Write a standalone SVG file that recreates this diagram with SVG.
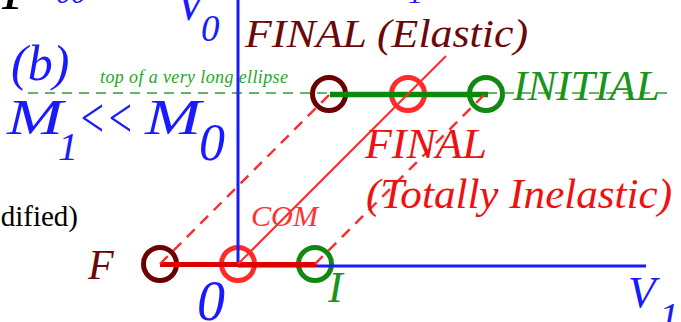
<svg xmlns="http://www.w3.org/2000/svg" width="681" height="322" viewBox="0 0 681 322">
<style>
text{font-family:"Liberation Serif","Times New Roman",serif;font-style:italic}
.blue{fill:#1a1aff}
.dred{fill:#6b0808}
.red{fill:#ee1111}
.grn{fill:#1a951a}
.ring{fill:none;stroke-width:5}
.axis{stroke:#1a1aff;stroke-width:3;fill:none}
.diag{stroke:#ff2a2a;stroke-width:2;fill:none}
.dash{stroke-dasharray:11,8;stroke-width:2.4}
</style>
<rect width="681" height="322" fill="#fff"/>
<!-- partially visible texts at top -->
<text x="2" y="9" font-size="58" fill="#000">P</text>
<text x="56" y="3" font-size="30" class="blue">00</text>
<text x="408" y="3" font-size="30" class="blue">1</text>
<text x="78" y="226" font-size="29" fill="#000" style="font-style:normal" text-anchor="end">(modified)</text>
<!-- left labels -->
<text x="11" y="80" font-size="50" class="blue">(b)</text>
<text x="7" y="134" font-size="50" class="blue" textLength="56" lengthAdjust="spacingAndGlyphs">M</text>
<text x="58" y="160" font-size="40" class="blue">1</text>
<text x="78" y="137" font-size="58" class="blue" textLength="56" lengthAdjust="spacingAndGlyphs">&lt;&lt;</text>
<text x="145" y="134" font-size="50" class="blue" textLength="56" lengthAdjust="spacingAndGlyphs">M</text>
<text x="199" y="160" font-size="52" class="blue">0</text>
<text x="176" y="20" font-size="46" class="blue">V</text>
<text x="201" y="41" font-size="37" class="blue">0</text>
<text x="100" y="83" font-size="18" fill="#2aa52a" textLength="188">top of a very long ellipse</text>
<!-- nodes -->
<g id="node-final-elastic"><circle class="ring" cx="329" cy="94" r="16.5" stroke="#6b0000"/></g>
<g id="node-com-top"><circle class="ring" cx="408" cy="94" r="16.5" stroke="#ff2a2a"/></g>
<g id="node-initial-top"><circle class="ring" cx="486" cy="94" r="16.5" stroke="#118811"/></g>
<g id="node-F"><circle class="ring" cx="160" cy="264" r="16.5" stroke="#6b0000"/></g>
<g id="node-origin"><circle class="ring" cx="238" cy="264" r="16.5" stroke="#ff2a2a"/></g>
<g id="node-I"><circle class="ring" cx="315" cy="264" r="16.5" stroke="#118811"/></g>
<!-- connectors -->
<g id="connectors">
<line x1="28" y1="93" x2="668" y2="93" stroke="#2fa02f" stroke-width="1.3" stroke-dasharray="10,7"/>
<line class="axis" x1="238" y1="0" x2="238" y2="266"/>
<line class="axis" x1="238" y1="266" x2="646" y2="266"/>
<line x1="160" y1="264.5" x2="317" y2="264.5" stroke="#e00000" stroke-width="5"/>
<line x1="330" y1="94.5" x2="488" y2="94.5" stroke="#0a8a0a" stroke-width="5.5"/>
<line class="diag" x1="238" y1="264" x2="446" y2="56"/>
<line class="diag dash" x1="160" y1="264" x2="330" y2="94"/>
<line class="diag dash" x1="315" y1="264" x2="487" y2="92"/>
</g>
<!-- labels -->
<text x="245" y="47" font-size="41" class="dred" textLength="283" lengthAdjust="spacingAndGlyphs">FINAL (Elastic)</text>
<text x="513" y="100" font-size="42" class="grn" textLength="147" lengthAdjust="spacingAndGlyphs">INITIAL</text>
<text x="365" y="158" font-size="42" class="red" textLength="122" lengthAdjust="spacingAndGlyphs">FINAL</text>
<text x="366" y="208" font-size="42" class="red" textLength="306" lengthAdjust="spacingAndGlyphs">(Totally Inelastic)</text>
<text x="251" y="226" font-size="30" fill="#ff3333" textLength="67" lengthAdjust="spacingAndGlyphs">COM</text>
<text x="88" y="279" font-size="42" class="dred">F</text>
<text x="197" y="320" font-size="56" class="blue">0</text>
<text x="328" y="302" font-size="44" class="grn">I</text>
<text x="628" y="307" font-size="45" class="blue">V</text>
<text x="659" y="330" font-size="40" class="blue">1</text>
</svg>
